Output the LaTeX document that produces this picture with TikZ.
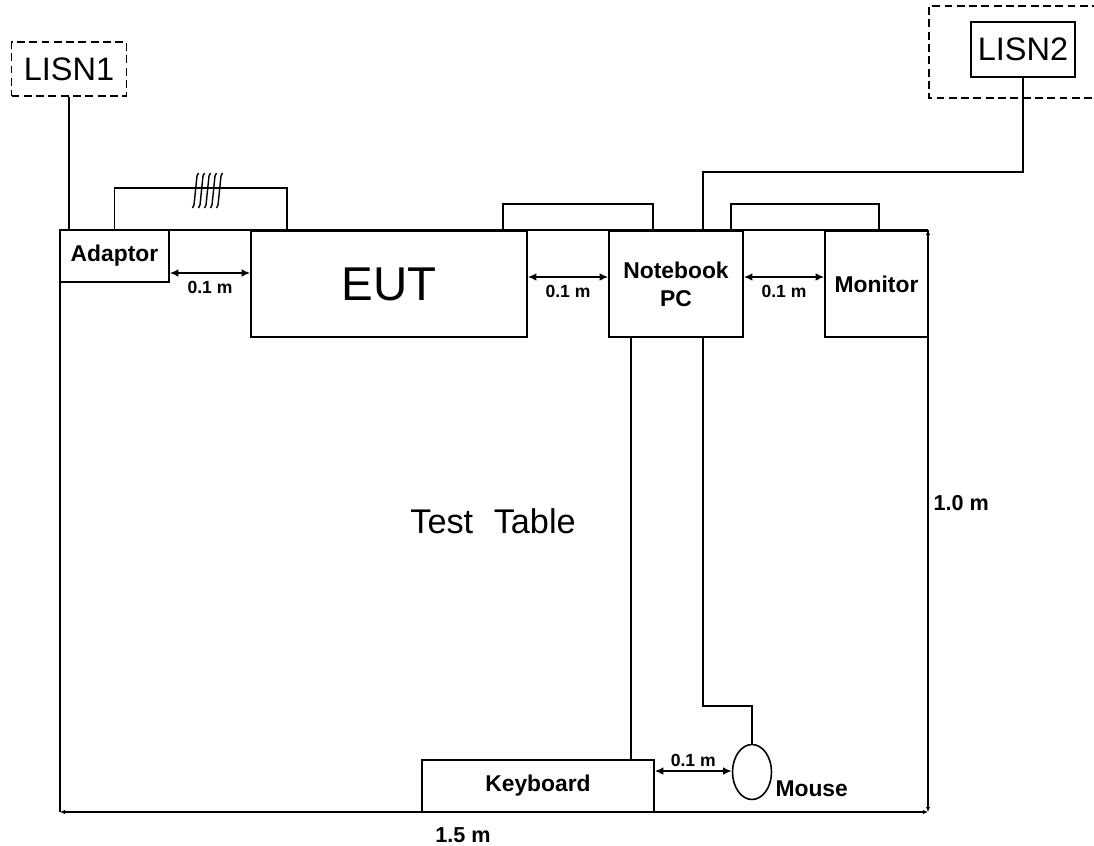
\documentclass[tikz,border=0pt]{standalone}
\usepackage{fontspec}
\setmainfont{Liberation Sans}
\usetikzlibrary{arrows.meta,shapes.geometric}
\begin{document}
\begin{tikzpicture}[x=0.02cm, y=-0.02cm, line width=0.9pt,
  bx/.style={rectangle, draw, inner sep=0pt, align=center, font=\fontsize{13}{16}\selectfont\bfseries},
  ls/.style={rectangle, draw, inner sep=0pt, minimum width=2.3cm, minimum height=1.08cm, font=\fontsize{18.5}{22}\selectfont},
  dsh/.style={dash pattern=on 4.5pt off 2.5pt},
  dm/.style={{Latex[length=1.7mm,width=1.5mm]}-{Latex[length=1.7mm,width=1.5mm]}},
  tp/.style={{Latex[length=1mm,width=0.9mm]}-{Latex[length=1mm,width=0.9mm]}},
  lb/.style={font=\fontsize{10}{12}\selectfont\bfseries, inner sep=1pt},
  sz/.style={font=\fontsize{12.3}{14}\selectfont\bfseries, inner sep=1pt}]
\useasboundingbox (0,0) rectangle (1094,845);
% LISNs
\node[ls, dsh] (lisnA) at (69,69) {LISN1};
\node[ls, minimum width=2.08cm, minimum height=1.1cm] (lisnB) at (1023,49.5) {LISN2};
\draw[dsh] (1100,6) -- (929,6) -- (929,98) -- (1100,98);
% table
\coordinate (tl) at (60,230);
\coordinate (tr) at (928,230);
\coordinate (br) at (928,812);
\coordinate (bl) at (60,812);
\draw (bl) -- (tl) -- (tr);
\draw[tp] (tr) -- (br);
\draw[tp] (bl) -- (br);
\node[sz, anchor=west] (hgt) at (931,503) {1.0 m};
\node[sz] (wid) at (463,835) {1.5 m};
\node[font=\fontsize{19.5}{22}\selectfont] (tab) at (493,521) {Test\hspace{0.6em}Table};
% devices
\node[bx, fill=white, minimum width=2.18cm, minimum height=1.04cm] (adaptor) at (114.5,256) {Adaptor};
\node[bx, minimum width=5.52cm, minimum height=2.12cm, font=\fontsize{27}{30}\selectfont] (eut) at (389,284) {EUT};
\node[bx, minimum width=2.68cm, minimum height=2.12cm] (nb) at (676,284) {Notebook\\PC};
\node[bx, minimum width=2.06cm, minimum height=2.12cm] (mon) at (876.5,284) {Monitor};
\node[bx, minimum width=4.64cm, minimum height=1.04cm] (kb) at (538,786) {Keyboard};
\node[ellipse, draw, inner sep=0pt, minimum width=0.78cm, minimum height=1.1cm] (mouse) at (752,772) {};
\node[font=\fontsize{13}{16}\selectfont\bfseries, anchor=west, inner sep=1pt] (mlab) at (773,789) {Mouse};
% cables
\draw (lisnA.south) -- (lisnA.south |- adaptor.north);
\draw (adaptor.north) -- ++(0,-41) -| ([xshift=0.74cm]eut.north west);
\draw ([xshift=-0.5cm]eut.north east) -- ++(0,-26) -| ([xshift=0.9cm]nb.north west);
\draw ([xshift=-0.26cm]nb.north east) -- ++(0,-26) -| ([xshift=1.1cm]mon.north west);
\draw ([xshift=0.54cm]nb.north) -- ++(0,-58) -| (lisnB.south);
\draw ([xshift=0.46cm]nb.south west) coordinate (kc) -- (kc |- kb.north);
\draw ([xshift=0.54cm]nb.south) -- ++(0,368) -| (mouse.north);
% ferrite
\foreach \i in {0,...,4}
  \draw[line width=0.8pt] ({192.5+6*\i},208) -- ({194+6*\i},205) -- ({197+6*\i},176) -- ({198.5+6*\i},173);
% distances
\draw[dm] ([yshift=-0.34cm]adaptor.east) coordinate (d1) -- (d1 -| eut.west) node[lb, midway, below=3pt] {0.1 m};
\draw[dm] ([yshift=0.14cm]eut.east) coordinate (d2) -- (d2 -| nb.west) node[lb, midway, below=3pt] {0.1 m};
\draw[dm] ([yshift=0.14cm]nb.east) coordinate (d3) -- (d3 -| mon.west) node[lb, midway, below=3pt] {0.1 m};
\draw[dm] ([yshift=0.3cm]kb.east) coordinate (d4) -- (d4 -| mouse.west) node[lb, midway, above=1pt] {0.1 m};
\end{tikzpicture}
\end{document}
